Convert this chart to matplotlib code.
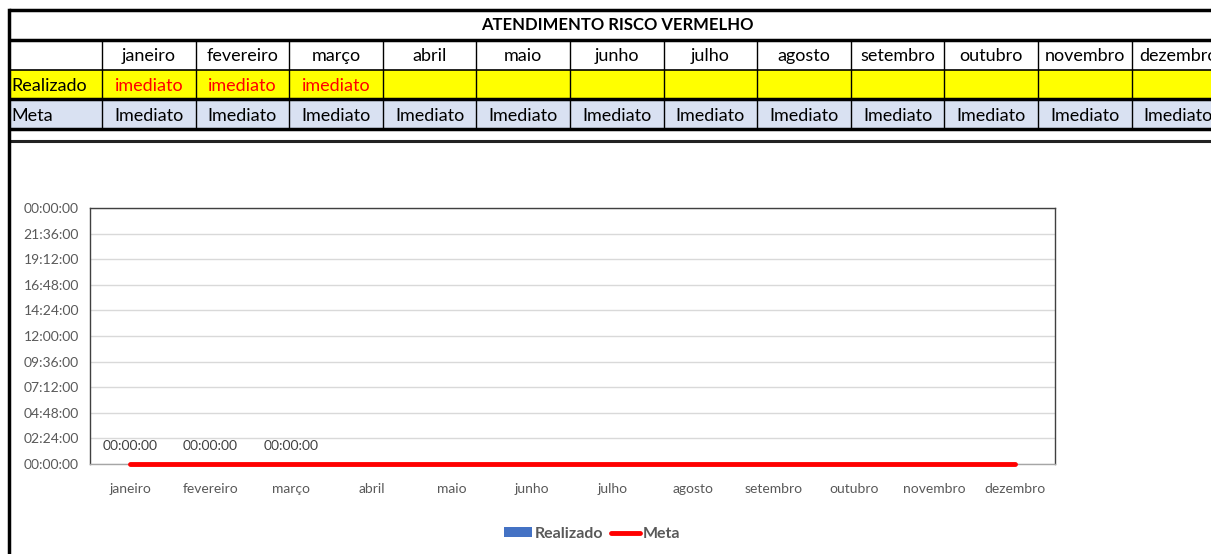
import numpy as np
import matplotlib
matplotlib.use("Agg")
import matplotlib.pyplot as plt
from matplotlib.ticker import FuncFormatter, MultipleLocator

plt.rcParams['font.family'] = ['Lato', 'DejaVu Sans']

# data
titulo = "ATENDIMENTO RISCO VERMELHO"
meses = ["janeiro", "fevereiro", "março", "abril", "maio", "junho",
         "julho", "agosto", "setembro", "outubro", "novembro", "dezembro"]
realizado_txt = ["imediato", "imediato", "imediato"] + [""] * 9
meta_txt = ["Imediato"] * 12
realizado = [0, 0, 0] + [np.nan] * 9   # fraction of a day
meta = [0] * 12
rotulos = ["00:00:00", "00:00:00", "00:00:00"]

W, H = 1211, 554
fig = plt.figure(figsize=(W / 100, H / 100), dpi=100)

# ---- table drawn in pixel coords ----
tb = fig.add_axes([0, 0, 1, 1])
tb.set_xlim(0, W)
tb.set_ylim(H, 0)
tb.axis("off")

x0, cw, fc = 9, 93.6, 102
cols = [x0, fc] + [fc + cw * (i + 1) for i in range(12)]
rows = [10, 40, 70, 99, 129]

tb.add_patch(plt.Rectangle((x0, 70), W, 29, color="#FFFF00", lw=0))
tb.add_patch(plt.Rectangle((x0, 99), W, 30, color="#D9E1F2", lw=0))

tb.text(617, 25, titulo, ha="center", va="center", fontsize=12, fontweight="bold")
for i, m in enumerate(meses):
    cx = fc + cw * i + cw / 2
    tb.text(cx, 56, m, ha="center", va="center", fontsize=13)
    tb.text(cx, 86, realizado_txt[i], ha="center", va="center", fontsize=13, color="#FF0000")
    tb.text(cx, 116, meta_txt[i], ha="center", va="center", fontsize=13)
tb.text(x0 + 2, 86, "Realizado", ha="left", va="center", fontsize=13)
tb.text(x0 + 2, 116, "Meta", ha="left", va="center", fontsize=13)

for y, lw in zip(rows, [2.5, 2.5, 1.2, 2.5, 2.5]):
    tb.plot([x0, W], [y, y], color="black", lw=lw, solid_capstyle="butt")
tb.plot([x0, W], [141, 141], color="#222222", lw=2.2, solid_capstyle="butt")
for x in cols[1:]:
    tb.plot([x, x], [40, 129], color="black", lw=1.0)
tb.plot([x0, x0], [10, H], color="black", lw=2.5)

# ---- chart ----
ax = fig.add_axes([90 / W, (H - 464) / H, 965 / W, 256 / H])
x = np.arange(12)
b = ax.bar(x, realizado, width=0.6, color="#4472C4", label="Realizado")
ln, = ax.plot(x, meta, color="#FF0000", lw=3.5, label="Meta",
              solid_capstyle="round", clip_on=False, zorder=5)
for i, t in enumerate(rotulos):
    ax.text(x[i], 0.045, t, ha="center", va="bottom", fontsize=10, color="#404040")

ax.set_xlim(-0.5, 11.5)
ax.set_ylim(0, 1.0)
ax.yaxis.set_major_locator(MultipleLocator(0.1))

def fmt(v, pos):
    s = int(round(v * 86400)) % 86400
    return "%02d:%02d:%02d" % (s // 3600, (s % 3600) // 60, s % 60)

ax.yaxis.set_major_formatter(FuncFormatter(fmt))
ax.set_xticks(x)
ax.set_xticklabels(meses)
ax.tick_params(axis="both", length=0, labelsize=10, labelcolor="#595959")
ax.tick_params(axis="x", pad=14)
ax.tick_params(axis="y", pad=8)
ax.grid(axis="y", color="#D9D9D9", lw=1)
ax.set_axisbelow(True)
for s in ax.spines.values():
    s.set_color("#404040")
    s.set_linewidth(1)
ax.spines["bottom"].set_color("#A6A6A6")

ax.legend([b, ln], ["Realizado", "Meta"], loc="upper center", bbox_to_anchor=(0.52, -0.19),
          ncol=2, frameon=False, handlelength=1.8, handleheight=0.6, columnspacing=0.5,
          handletextpad=0.15, labelcolor="#595959", prop={"weight": "bold", "size": 11.5})

fig.savefig("out.png", dpi=100)
